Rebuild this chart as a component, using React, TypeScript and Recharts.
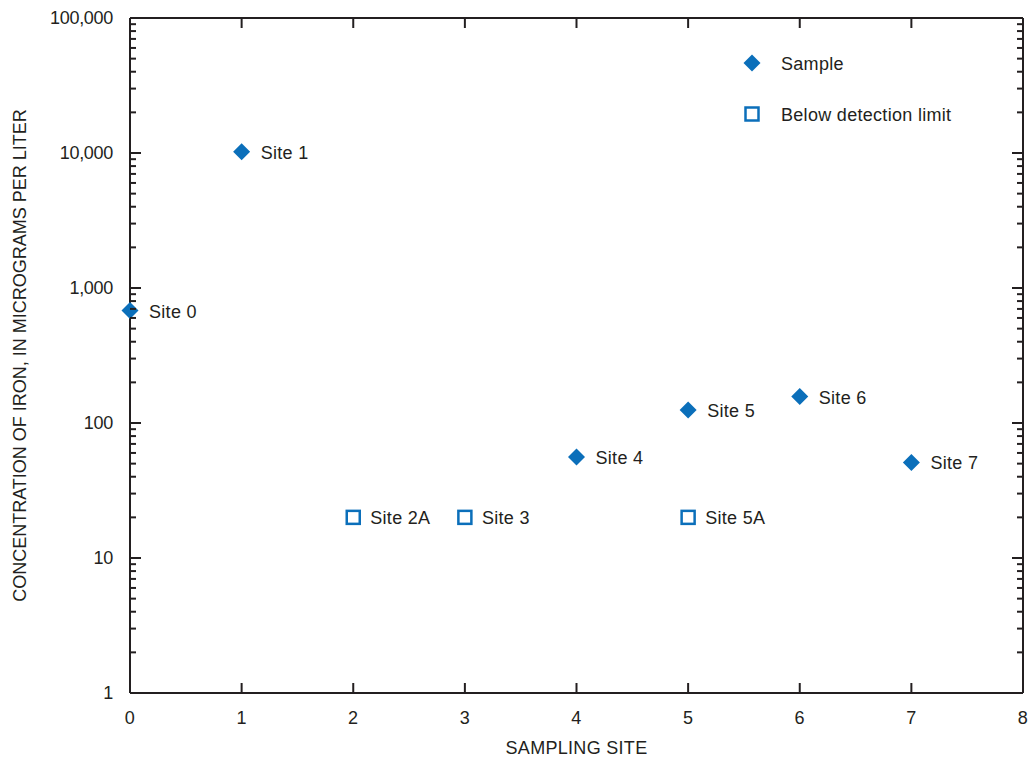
import { ScatterChart, Scatter, XAxis, YAxis, Legend } from 'recharts';

const FONT = '"Liberation Sans", Arial, sans-serif';
const INK = '#231f20';
const BLUE = '#0b6fba';

// measured samples
const sampleSites = ['Site 0', 'Site 1', 'Site 4', 'Site 5', 'Site 6', 'Site 7'];
const sampleX = [0, 1, 4, 5, 6, 7];
const sampleIron = [680, 10200, 56, 125, 157, 51];

// reported as below detection limit
const belowSites = ['Site 2A', 'Site 3', 'Site 5A'];
const belowX = [2, 3, 5];
const belowIron = [20, 20, 20];

const legendNames = ['Sample', 'Below detection limit'];

const xTicks = [0, 1, 2, 3, 4, 5, 6, 7, 8];
const yMajorTicks = [1, 10, 100, 1000, 10000, 100000];
const yTicks = yMajorTicks.flatMap((t, i) =>
  i === yMajorTicks.length - 1 ? [t] : [1, 2, 3, 4, 5, 6, 7, 8, 9].map(m => m * t)
);

const sampleData = sampleX.map((x, i) => ({ site: sampleSites[i], x, iron: sampleIron[i] }));
const belowData = belowX.map((x, i) => ({ site: belowSites[i], x, iron: belowIron[i] }));

const textStyle = { fontFamily: FONT, fontSize: 18, fill: INK, letterSpacing: 0.3 };

const isMajor = (v: number) => yMajorTicks.includes(v);

const LeftTick = ({ x, y, payload }: any) => {
  const major = isMajor(payload.value);
  return (
    <g>
      <line x1={x} x2={x + (major ? 11 : 6)} y1={y} y2={y} stroke={INK} strokeWidth={2} />
      {major && (
        <text x={x - 17} y={y} textAnchor="end" dominantBaseline="central" style={{ ...textStyle, letterSpacing: -0.3 }}>
          {payload.value.toLocaleString('en-US')}
        </text>
      )}
    </g>
  );
};

const RightTick = ({ x, y, payload }: any) => {
  const major = isMajor(payload.value);
  return <line x1={x} x2={x - (major ? 11 : 6)} y1={y} y2={y} stroke={INK} strokeWidth={2} />;
};

const BottomTick = ({ x, y, payload }: any) => (
  <g>
    <line x1={x} x2={x} y1={y} y2={y - 10} stroke={INK} strokeWidth={2} />
    <text x={x} y={y + 25} textAnchor="middle" dominantBaseline="central" style={textStyle}>
      {payload.value}
    </text>
  </g>
);

const TopTick = ({ x, y }: any) => (
  <line x1={x} x2={x} y1={y} y2={y + 10} stroke={INK} strokeWidth={2} />
);

const SampleMark = ({ cx, cy, payload }: any) => (
  <g>
    <path d={`M${cx},${cy - 8.5}L${cx + 8.5},${cy}L${cx},${cy + 8.5}L${cx - 8.5},${cy}Z`} fill={BLUE} />
    <text x={cx + 19} y={cy + 1} dominantBaseline="central" style={textStyle}>{payload.site}</text>
  </g>
);

const BelowMark = ({ cx, cy, payload }: any) => (
  <g>
    <rect x={cx - 6.5} y={cy - 6.5} width={13} height={13} fill="#fff" stroke={BLUE} strokeWidth={2.5} />
    <text x={cx + 17} y={cy + 1} dominantBaseline="central" style={textStyle}>{payload.site}</text>
  </g>
);

const LegendBox = ({ payload }: any) => {
  const items = legendNames.filter(n => (payload || []).some((e: any) => e.value === n));
  return (
    <div style={{ fontFamily: FONT, fontSize: 18, letterSpacing: 0.3, color: INK }}>
      {items.map(name => (
        <div key={name} style={{ display: 'flex', alignItems: 'center', height: 24, marginBottom: 27 }}>
          <svg width={24} height={24}>
            {name === 'Sample' ? (
              <path d="M12,3.5L20.5,12L12,20.5L3.5,12Z" fill={BLUE} />
            ) : (
              <rect x={5.5} y={5.5} width={13} height={13} fill="#fff" stroke={BLUE} strokeWidth={2.5} />
            )}
          </svg>
          <span style={{ marginLeft: 17, paddingTop: 3 }}>{name}</span>
        </div>
      ))}
    </div>
  );
};

const YTitle = ({ viewBox }: any) => {
  const cx = viewBox.x + 20;
  const cy = viewBox.y + viewBox.height / 2;
  return (
    <text x={cx} y={cy} transform={`rotate(-90, ${cx}, ${cy})`} textAnchor="middle" dominantBaseline="central" style={{ ...textStyle, letterSpacing: 0 }}>
      CONCENTRATION OF IRON, IN MICROGRAMS PER LITER
    </text>
  );
};

const XTitle = ({ viewBox }: any) => (
  <text x={viewBox.x + viewBox.width / 2} y={viewBox.y + 55} textAnchor="middle" dominantBaseline="central" style={textStyle}>
    SAMPLING SITE
  </text>
);

export default function App() {
  return (
    <div style={{ position: 'absolute', left: 0, top: 0, width: 1033, height: 761, background: '#fff' }}>
      <ScatterChart width={1033} height={761} margin={{ top: 0, right: 0, bottom: 0, left: 0 }}>
        <XAxis
          xAxisId="bottom"
          dataKey="x"
          type="number"
          domain={[0, 8]}
          ticks={xTicks}
          interval={0}
          height={68}
          tickSize={0}
          tickMargin={0}
          tickLine={false}
          axisLine={{ stroke: INK, strokeWidth: 2 }}
          tick={<BottomTick />}
          label={<XTitle />}
        />
        <XAxis
          xAxisId="top"
          orientation="top"
          dataKey="x"
          type="number"
          domain={[0, 8]}
          ticks={xTicks}
          interval={0}
          height={18}
          tickSize={0}
          tickMargin={0}
          tickLine={false}
          axisLine={{ stroke: INK, strokeWidth: 2 }}
          tick={<TopTick />}
        />
        <YAxis
          yAxisId="left"
          dataKey="iron"
          type="number"
          scale="log"
          domain={[1, 100000]}
          allowDataOverflow
          ticks={yTicks}
          interval={0}
          width={130}
          tickSize={0}
          tickMargin={0}
          tickLine={false}
          axisLine={{ stroke: INK, strokeWidth: 2 }}
          tick={<LeftTick />}
          label={<YTitle />}
        />
        <YAxis
          yAxisId="right"
          orientation="right"
          dataKey="iron"
          type="number"
          scale="log"
          domain={[1, 100000]}
          allowDataOverflow
          ticks={yTicks}
          interval={0}
          width={10}
          tickSize={0}
          tickMargin={0}
          tickLine={false}
          axisLine={{ stroke: INK, strokeWidth: 2 }}
          tick={<RightTick />}
        />
        <Legend
          layout="horizontal"
          verticalAlign="middle"
          align="center"
          content={<LegendBox />}
          wrapperStyle={{ left: 740, top: 51, width: 280 }}
        />
        <Scatter
          name="Sample"
          data={sampleData}
          xAxisId="bottom"
          yAxisId="left"
          shape={<SampleMark />}
          isAnimationActive={false}
        />
        <Scatter
          name="Below detection limit"
          data={belowData}
          xAxisId="bottom"
          yAxisId="left"
          shape={<BelowMark />}
          isAnimationActive={false}
        />
        <Scatter
          data={[...sampleData, ...belowData]}
          xAxisId="top"
          yAxisId="right"
          shape={() => <g />}
          legendType="none"
          isAnimationActive={false}
        />
      </ScatterChart>
    </div>
  );
}
